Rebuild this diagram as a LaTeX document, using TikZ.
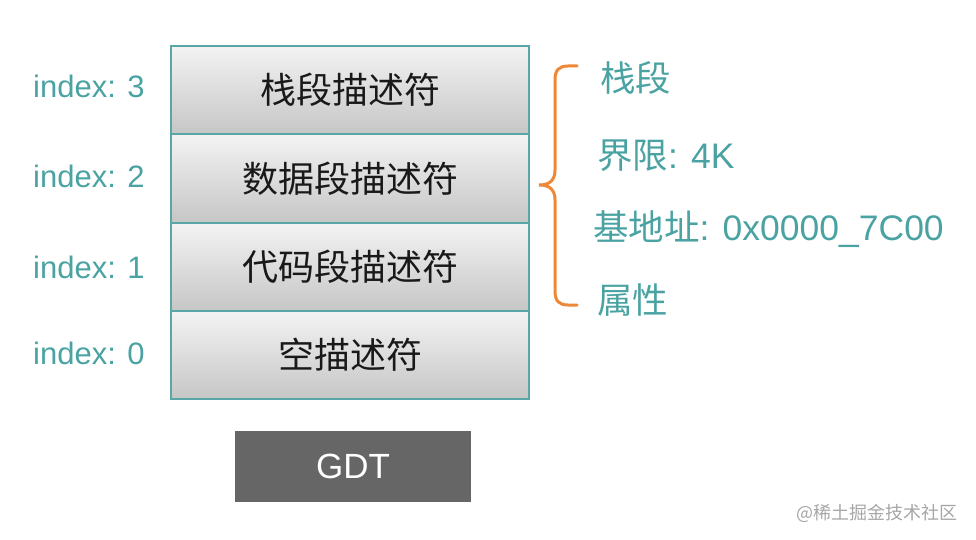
\documentclass[tikz,border=0pt]{standalone}
\usepackage{fontspec}
\setmainfont{Liberation Sans}
\newfontfamily\cjk{Noto Sans CJK SC}
\definecolor{teal1}{HTML}{4AA3A2}
\definecolor{edge1}{HTML}{5AA5A5}
\definecolor{orng}{HTML}{EC8838}
\definecolor{gtop}{HTML}{F3F3F3}
\definecolor{gbot}{HTML}{C6C6C6}
\definecolor{gdtfill}{HTML}{666666}
\tikzset{
  desc/.style={draw=edge1, line width=1.8pt, top color=gtop, bottom color=gbot,
    minimum width=358pt, minimum height=88pt, inner sep=0pt, font=\fontsize{36}{40}\cjk, text=black!90},
  idx/.style={text=teal1, font=\fontsize{31}{34}\selectfont, anchor=west, inner sep=0pt},
  info/.style={text=teal1, font=\fontsize{35.5}{40}\selectfont, anchor=west, inner sep=0pt},
}
\begin{document}
\begin{tikzpicture}[x=1pt,y=-1pt]
\useasboundingbox (0,0) rectangle (976,540);
\node[desc] (d3) at (350,90) {栈段描述符};
\node[desc] (d2) at (350,178.5) {数据段描述符};
\node[desc] (d1) at (350,267) {代码段描述符};
\node[desc] (d0) at (350,355) {空描述符};
\node[fill=gdtfill, minimum width=236pt, minimum height=71pt, inner sep=0pt,
  text=white, font=\fontsize{35}{38}\selectfont] (gdt) at (353,466.5) {GDT};
\node[idx] (i3) at (33,86) {index: 3};
\node[idx] (i2) at (33,176) {index: 2};
\node[idx] (i1) at (33,267) {index: 1};
\node[idx] (i0) at (33,353) {index: 0};
\draw[orng, line width=3pt, line cap=round]
  (577,66) -- (568,66) .. controls (559,66) and (555,70) .. (555,80)
  -- (555,170) .. controls (555,180) and (550,185) .. (539,185)
  .. controls (550,185) and (555,190) .. (555,200)
  -- (555,291) .. controls (555,301) and (559,305) .. (568,305) -- (577,305);
\node[info] (t0) at (600,78) {\cjk 栈段};
\node[info] (t1) at (597,156) {{\cjk 界限}: 4K};
\node[info] (t2) at (593,229) {{\cjk 基地址}: 0x0000\_7C00};
\node[info] (t3) at (597,300) {\cjk 属性};
\node[text=black!35, font=\fontsize{18}{20}\cjk, anchor=east, inner sep=0pt] (wm) at (958,513) {@稀土掘金技术社区};
\end{tikzpicture}
\end{document}
